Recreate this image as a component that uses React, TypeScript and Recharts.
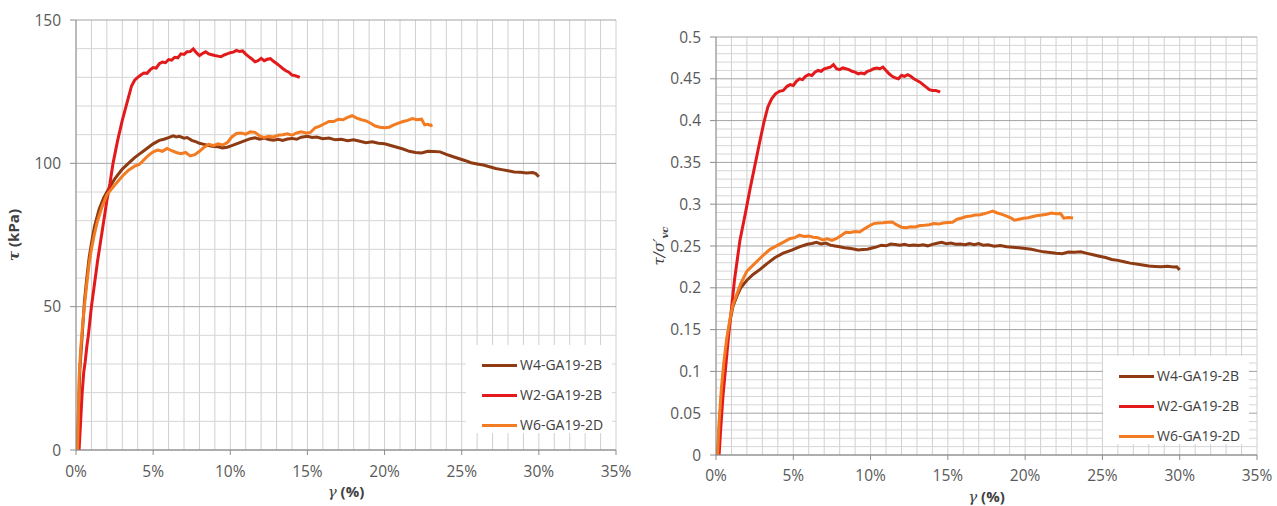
import { Line, LineChart, ReferenceLine, XAxis, YAxis } from 'recharts'

type Pt = [number, number]

// γ (%) vs τ (kPa)
const W4_TAU: Pt[] = [
  [0.1, 0], [0.15, 12], [0.25, 28], [0.4, 40], [0.55, 52], [0.7, 60], [0.85, 67], [1.0, 72],
  [1.2, 78], [1.5, 84], [1.8, 88], [2.1, 91], [2.5, 94.5], [3.0, 98], [3.5, 100.5], [3.8, 102],
  [4.1, 103.2], [4.4, 104.4], [4.7, 105.6], [5.0, 106.8], [5.4, 108], [5.7, 108.4], [6.0, 109],
  [6.3, 109.6], [6.5, 109.2], [6.7, 109.4], [7.0, 108.8], [7.2, 109], [7.5, 108], [7.8, 107.5],
  [8.0, 107], [8.3, 106.6], [8.6, 106.2], [8.9, 105.9], [9.2, 105.8], [9.5, 105.4], [9.8, 105.6],
  [10.1, 106.2], [10.4, 106.8], [10.7, 107.4], [11.0, 108], [11.3, 108.6], [11.6, 108.9],
  [11.9, 108.4], [12.2, 108.8], [12.5, 108.3], [12.8, 108.1], [13.1, 108.4], [13.4, 108],
  [13.7, 108.5], [14.0, 108.7], [14.3, 108.4], [14.6, 109.1], [15.0, 109.4], [15.3, 109],
  [15.6, 109.2], [16.0, 108.6], [16.4, 108.8], [16.8, 108.2], [17.2, 108.4], [17.6, 107.9],
  [18.0, 108.2], [18.4, 107.7], [18.8, 107.2], [19.2, 107.5], [19.6, 107], [20.0, 106.8],
  [20.4, 106.2], [20.8, 105.6], [21.2, 105], [21.6, 104.2], [22.0, 103.8], [22.4, 103.6],
  [22.8, 104.2], [23.2, 104.1], [23.6, 104], [24.0, 103.1], [24.4, 102.4], [24.8, 101.7],
  [25.2, 101], [25.6, 100.2], [26.0, 99.8], [26.4, 99.4], [26.8, 98.8], [27.2, 98.2],
  [27.6, 97.8], [28.0, 97.4], [28.4, 97], [28.8, 96.9], [29.2, 96.6], [29.6, 96.8],
  [29.8, 96.4], [30.0, 95.3],
]

const W2_TAU: Pt[] = [
  [0.2, 0], [0.3, 10], [0.4, 20], [0.5, 27], [0.6, 31], [0.7, 36], [0.8, 40], [0.9, 45],
  [1.0, 50], [1.2, 58], [1.4, 66], [1.6, 73], [1.8, 80], [2.0, 87], [2.2, 93], [2.4, 100],
  [2.7, 108], [3.0, 115], [3.2, 119], [3.4, 123], [3.6, 127], [3.8, 129], [4.0, 130],
  [4.2, 130.8], [4.4, 131.5], [4.6, 131.4], [4.8, 132.6], [5.0, 133.4], [5.2, 133.2],
  [5.4, 134.8], [5.6, 135.3], [5.8, 135.1], [6.0, 136.2], [6.2, 136], [6.4, 137], [6.6, 136.8],
  [6.8, 138.2], [7.0, 138], [7.2, 138.9], [7.4, 139], [7.6, 139.9], [7.8, 138.6], [8.0, 137.6],
  [8.2, 138.3], [8.4, 138.9], [8.6, 138.2], [8.8, 137.9], [9.0, 137.6], [9.2, 137.4],
  [9.4, 137.2], [9.6, 137.8], [9.8, 138.2], [10.0, 138.6], [10.2, 138.8], [10.4, 139.4],
  [10.6, 139], [10.8, 139.2], [11.0, 138.1], [11.2, 137.2], [11.4, 136.4], [11.6, 135.4],
  [11.8, 135.8], [12.0, 136.6], [12.2, 135.8], [12.4, 136.3], [12.6, 136.5], [12.8, 135.6],
  [13.0, 134.8], [13.2, 134], [13.4, 133.1], [13.6, 132.3], [13.8, 131.8], [14.0, 130.8],
  [14.2, 130.6], [14.4, 130.2], [14.5, 130],
]

const W6_TAU: Pt[] = [
  [0.1, 0], [0.15, 10], [0.2, 25], [0.3, 35], [0.45, 45], [0.58, 52], [0.7, 58], [0.85, 65],
  [1.0, 70], [1.2, 75.5], [1.4, 80], [1.7, 85], [2.0, 89], [2.3, 91], [2.6, 93], [3.0, 95.5],
  [3.4, 97.6], [3.8, 99], [4.1, 99.6], [4.4, 101.2], [4.7, 102.8], [5.0, 104], [5.3, 104.6],
  [5.6, 104.2], [5.9, 105.2], [6.2, 104.4], [6.5, 103.8], [6.8, 103.4], [7.1, 103.8],
  [7.4, 102.6], [7.7, 103], [8.0, 104.2], [8.3, 105.6], [8.6, 106.6], [8.9, 106.2],
  [9.2, 106.8], [9.5, 106.4], [9.8, 107.2], [10.1, 109.2], [10.4, 110.4], [10.7, 110.6],
  [11.0, 110.2], [11.3, 111], [11.6, 110.8], [11.9, 109.6], [12.2, 109], [12.5, 109.4],
  [12.8, 109.2], [13.1, 109.8], [13.4, 110], [13.7, 110.3], [14.0, 109.8], [14.3, 110.6],
  [14.6, 111], [14.9, 110.6], [15.2, 110.8], [15.5, 112.4], [15.8, 113], [16.1, 113.8],
  [16.4, 114.6], [16.7, 114.6], [17.0, 115.4], [17.3, 115.2], [17.6, 116], [17.9, 116.6],
  [18.2, 115.8], [18.5, 115.2], [18.8, 114.8], [19.1, 114], [19.4, 113], [19.7, 112.6],
  [20.0, 112.4], [20.3, 112.6], [20.6, 113.4], [20.9, 114], [21.2, 114.6], [21.5, 115],
  [21.8, 115.6], [22.1, 115.2], [22.4, 115.4], [22.6, 113.4], [22.8, 113.6], [23.0, 113.2],
  [23.1, 113.5],
]

// γ (%) vs τ/σ'vc
const W4_RATIO: Pt[] = [
  [0.1, 0], [0.2, 0.03], [0.35, 0.07], [0.5, 0.1], [0.7, 0.135], [0.9, 0.16], [1.1, 0.178],
  [1.35, 0.19], [1.6, 0.2], [2.0, 0.209], [2.4, 0.216], [2.85, 0.222], [3.3, 0.229],
  [3.8, 0.236], [4.35, 0.2414], [4.9, 0.245], [5.4, 0.249], [5.9, 0.252], [6.2, 0.253],
  [6.5, 0.2545], [6.8, 0.2525], [7.1, 0.2535], [7.4, 0.251], [7.7, 0.25], [8.0, 0.249],
  [8.3, 0.2478], [8.6, 0.2474], [8.9, 0.2465], [9.2, 0.2452], [9.5, 0.2458], [9.8, 0.2462],
  [10.1, 0.2476], [10.4, 0.249], [10.7, 0.251], [11.0, 0.2502], [11.3, 0.2524], [11.6, 0.2518],
  [11.9, 0.2508], [12.2, 0.252], [12.5, 0.2505], [12.8, 0.2512], [13.1, 0.2506], [13.4, 0.2514],
  [13.7, 0.2502], [14.0, 0.252], [14.3, 0.2532], [14.6, 0.2544], [14.9, 0.2528], [15.2, 0.2535],
  [15.5, 0.2522], [15.8, 0.2524], [16.1, 0.2516], [16.4, 0.2528], [16.7, 0.2515], [17.0, 0.253],
  [17.3, 0.2508], [17.6, 0.2514], [18.0, 0.2498], [18.4, 0.2505], [18.8, 0.249], [19.2, 0.2485],
  [19.6, 0.2478], [20.0, 0.247], [20.4, 0.2462], [20.8, 0.2445], [21.2, 0.243], [21.6, 0.2422],
  [22.0, 0.2414], [22.4, 0.2408], [22.8, 0.2428], [23.2, 0.2424], [23.6, 0.243], [24.0, 0.2412],
  [24.4, 0.2395], [24.8, 0.2378], [25.2, 0.2362], [25.6, 0.2338], [26.0, 0.2328], [26.4, 0.2312],
  [26.8, 0.2295], [27.2, 0.2284], [27.6, 0.2272], [28.0, 0.226], [28.4, 0.2256], [28.8, 0.2252],
  [29.2, 0.2258], [29.6, 0.2248], [29.8, 0.2252], [30.0, 0.2215],
]

const W2_RATIO: Pt[] = [
  [0.2, 0], [0.3, 0.03], [0.45, 0.07], [0.6, 0.1], [0.8, 0.14], [1.0, 0.175], [1.2, 0.21],
  [1.55, 0.257], [1.9, 0.289], [2.2, 0.318], [2.5, 0.345], [2.8, 0.372], [3.1, 0.398],
  [3.35, 0.416], [3.6, 0.426], [3.85, 0.432], [4.1, 0.435], [4.35, 0.436], [4.6, 0.441],
  [4.8, 0.443], [5.0, 0.442], [5.2, 0.447], [5.4, 0.45], [5.6, 0.449], [5.8, 0.453],
  [6.0, 0.455], [6.2, 0.454], [6.4, 0.458], [6.6, 0.46], [6.8, 0.459], [7.0, 0.462],
  [7.2, 0.463], [7.4, 0.464], [7.6, 0.467], [7.8, 0.462], [8.0, 0.461], [8.2, 0.463],
  [8.4, 0.462], [8.6, 0.461], [8.8, 0.459], [9.0, 0.458], [9.2, 0.456], [9.4, 0.457],
  [9.6, 0.456], [9.8, 0.459], [10.0, 0.46], [10.2, 0.462], [10.4, 0.463], [10.6, 0.462],
  [10.8, 0.464], [11.0, 0.46], [11.2, 0.456], [11.4, 0.453], [11.6, 0.451], [11.8, 0.45],
  [12.0, 0.454], [12.2, 0.453], [12.4, 0.455], [12.6, 0.453], [12.8, 0.45], [13.0, 0.448],
  [13.2, 0.446], [13.4, 0.443], [13.6, 0.44], [13.8, 0.437], [14.0, 0.436], [14.2, 0.436],
  [14.4, 0.435], [14.5, 0.434],
]

const W6_RATIO: Pt[] = [
  [0.1, 0], [0.2, 0.04], [0.35, 0.08], [0.5, 0.11], [0.7, 0.14], [0.9, 0.162], [1.1, 0.18],
  [1.3, 0.19], [1.6, 0.205], [2.0, 0.22], [2.5, 0.229], [3.0, 0.238], [3.5, 0.246],
  [4.0, 0.251], [4.4, 0.255], [4.8, 0.259], [5.1, 0.26], [5.4, 0.263], [5.7, 0.2615],
  [6.0, 0.262], [6.3, 0.2605], [6.6, 0.26], [6.9, 0.2572], [7.2, 0.2585], [7.5, 0.2568],
  [7.8, 0.259], [8.1, 0.2625], [8.4, 0.2665], [8.7, 0.2662], [9.0, 0.2672], [9.3, 0.2668],
  [9.6, 0.2705], [9.9, 0.274], [10.2, 0.2768], [10.5, 0.2775], [10.8, 0.2778], [11.1, 0.2784],
  [11.4, 0.2788], [11.7, 0.2752], [12.0, 0.2725], [12.3, 0.2718], [12.6, 0.273], [12.9, 0.2728],
  [13.2, 0.2745], [13.5, 0.2748], [13.8, 0.2755], [14.1, 0.2768], [14.4, 0.2762], [14.7, 0.2775],
  [15.0, 0.278], [15.3, 0.2785], [15.6, 0.282], [15.9, 0.2835], [16.2, 0.2852], [16.5, 0.2858],
  [16.8, 0.2872], [17.1, 0.2875], [17.4, 0.2888], [17.7, 0.2905], [17.9, 0.2918], [18.2, 0.2895],
  [18.5, 0.2878], [18.8, 0.2858], [19.1, 0.2835], [19.3, 0.2808], [19.6, 0.282], [19.9, 0.2832],
  [20.2, 0.2838], [20.5, 0.2852], [20.8, 0.2865], [21.1, 0.2872], [21.4, 0.288], [21.7, 0.2895],
  [22.0, 0.2885], [22.3, 0.2888], [22.5, 0.2832], [22.8, 0.284], [23.1, 0.2835],
]

const SERIES_NAMES = ['W4-GA19-2B', 'W2-GA19-2B', 'W6-GA19-2D']
const SERIES_COLORS = ['#8E3A12', '#E31A1C', '#F37B21']

const X_TICKS = [0, 5, 10, 15, 20, 25, 30, 35]
const X_GRID = Array.from({ length: 36 }, (_, i) => i)
const TAU_TICKS = [0, 50, 100, 150]
const TAU_MINOR = Array.from({ length: 16 }, (_, i) => i * 10).filter((v) => v % 50 !== 0)
const RATIO_TICKS = Array.from({ length: 11 }, (_, i) => +(i * 0.05).toFixed(2))
const RATIO_MINOR = Array.from({ length: 51 }, (_, i) => i)
  .filter((i) => i % 5 !== 0)
  .map((i) => +(i * 0.01).toFixed(2))

const FONT = '"Open Sans", "Liberation Sans", sans-serif'
const AXIS_GREY = '#8C8C8C'
const GRID_V = '#D0D0D0'
const GRID_MINOR = '#D6D6D6'
const GRID_MAJOR = '#A3A3A3'
const tickStyle = { fill: '#595959', fontSize: 15.5, fontFamily: FONT }

const toRows = (pts: Pt[]) => pts.map(([x, y]) => ({ x, y }))

// grid drawn as reference lines so minor and major rows can differ in tone
function gridLines(minor: number[], major: number[]) {
  return [
    ...X_GRID.map((v) => (
      <ReferenceLine key={`v${v}`} x={v} stroke={GRID_V} strokeWidth={1} zIndex={-100} />
    )),
    ...minor.map((v) => (
      <ReferenceLine key={`m${v}`} y={v} stroke={GRID_MINOR} strokeWidth={1} zIndex={-100} />
    )),
    ...major.map((v) => (
      <ReferenceLine key={`M${v}`} y={v} stroke={GRID_MAJOR} strokeWidth={1} zIndex={-99} />
    )),
  ]
}

function XTitle({ viewBox }: any) {
  const cx = viewBox.x + viewBox.width / 2
  return (
    <text x={cx} y={viewBox.y + 47} textAnchor="middle" fill="#404040" fontFamily={FONT} fontSize={15} fontWeight={700}>
      <tspan fontStyle="italic" fontWeight={400} fontFamily="'DejaVu Serif', serif">γ</tspan>
      <tspan> (%)</tspan>
    </text>
  )
}

function TauTitle({ viewBox }: any) {
  const cy = viewBox.y + viewBox.height / 2
  const x = 19
  return (
    <text
      x={x}
      y={cy}
      transform={`rotate(-90 ${x} ${cy})`}
      textAnchor="middle"
      fill="#404040"
      fontFamily={FONT}
      fontSize={15}
      fontWeight={700}
    >
      <tspan fontStyle="italic" fontFamily="'DejaVu Serif', serif">τ</tspan>
      <tspan> (kPa)</tspan>
    </text>
  )
}

function RatioTitle({ viewBox }: any) {
  const cy = viewBox.y + viewBox.height / 2
  const x = 24
  return (
    <text
      x={x}
      y={cy}
      transform={`rotate(-90 ${x} ${cy})`}
      textAnchor="middle"
      fill="#404040"
      fontFamily="'DejaVu Serif', serif"
      fontSize={15}
      fontStyle="italic"
    >
      <tspan>τ/σ′</tspan>
      <tspan fontSize={10} fontWeight={700} dy={4}>vc</tspan>
    </text>
  )
}

function LegendBox({ left, top }: { left: number; top: number }) {
  return (
    <div
      style={{
        position: 'absolute',
        left,
        top,
        width: 146,
        height: 88,
        background: '#FFFFFF',
        boxSizing: 'border-box',
        paddingTop: 5,
      }}
    >
      {SERIES_NAMES.map((name, i) => (
        <div key={name} style={{ display: 'flex', alignItems: 'center', height: 30, paddingLeft: 16 }}>
          <span style={{ display: 'inline-block', width: 35, height: 3, background: SERIES_COLORS[i] }} />
          <span
            style={{ marginLeft: 3, fontFamily: FONT, fontSize: 14, color: '#404040', lineHeight: '16px' }}
          >
            {name}
          </span>
        </div>
      ))}
    </div>
  )
}

const TAU_SETS = [W4_TAU, W2_TAU, W6_TAU]
const RATIO_SETS = [W4_RATIO, W2_RATIO, W6_RATIO]

export default function App() {
  return (
    <div style={{ position: 'absolute', left: 0, top: 0, width: 1277, height: 506, background: '#fff' }}>
      <div style={{ position: 'absolute', left: 0, top: 0 }}>
        <LineChart width={640} height={506} margin={{ top: 20, right: 24, bottom: 26, left: 16 }}>
          <XAxis
            dataKey="x"
            type="number"
            domain={[0, 35]}
            ticks={X_TICKS}
            tickFormatter={(v) => `${v}%`}
            allowDataOverflow
            height={30}
            tick={tickStyle}
            tickSize={5}
            tickMargin={11}
            stroke={AXIS_GREY}
            label={{ content: XTitle }}
          />
          <YAxis
            type="number"
            domain={[0, 150]}
            ticks={TAU_TICKS}
            width={60}
            tick={tickStyle}
            tickSize={6}
            tickMargin={9}
            stroke={AXIS_GREY}
            label={{ content: TauTitle }}
          />
          {gridLines(TAU_MINOR, TAU_TICKS)}
          {TAU_SETS.map((pts, i) => (
            <Line
              key={SERIES_NAMES[i]}
              data={toRows(pts)}
              dataKey="y"
              name={SERIES_NAMES[i]}
              stroke={SERIES_COLORS[i]}
              strokeWidth={3}
              dot={false}
              type="linear"
              isAnimationActive={false}
            />
          ))}
        </LineChart>
      </div>
      <LegendBox left={466} top={345} />

      <div style={{ position: 'absolute', left: 640, top: 0 }}>
        <LineChart width={637} height={506} margin={{ top: 37, right: 20, bottom: 21, left: 16 }}>
          <XAxis
            dataKey="x"
            type="number"
            domain={[0, 35]}
            ticks={X_TICKS}
            tickFormatter={(v) => `${v}%`}
            allowDataOverflow
            height={30}
            tick={tickStyle}
            tickSize={5}
            tickMargin={10}
            stroke={AXIS_GREY}
            label={{ content: XTitle }}
          />
          <YAxis
            type="number"
            domain={[0, 0.5]}
            ticks={RATIO_TICKS}
            width={60}
            tick={tickStyle}
            tickSize={6}
            tickMargin={9}
            stroke={AXIS_GREY}
            label={{ content: RatioTitle }}
          />
          {gridLines(RATIO_MINOR, RATIO_TICKS)}
          {RATIO_SETS.map((pts, i) => (
            <Line
              key={SERIES_NAMES[i]}
              data={toRows(pts)}
              dataKey="y"
              name={SERIES_NAMES[i]}
              stroke={SERIES_COLORS[i]}
              strokeWidth={3}
              dot={false}
              type="linear"
              isAnimationActive={false}
            />
          ))}
        </LineChart>
      </div>
      <LegendBox left={1103} top={356} />
    </div>
  )
}
